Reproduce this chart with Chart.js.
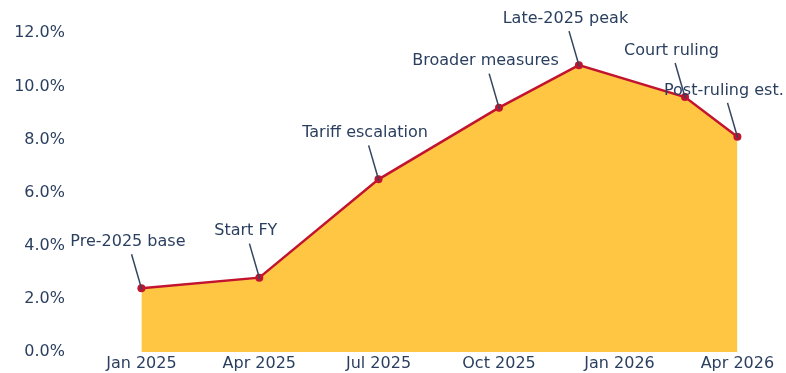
<!DOCTYPE html>
<html>
<head>
<meta charset="utf-8">
<script src="https://cdn.jsdelivr.net/npm/chart.js@4/dist/chart.umd.min.js"></script>
<style>
  html, body { margin: 0; padding: 0; background: #ffffff; }
  #wrap { width: 786px; height: 373px; }
</style>
</head>
<body>
<div id="wrap"><canvas id="chart" width="786" height="373"></canvas></div>
<script>
// Observation dates and estimated effective tariff rate (%)
const dates = ['2025-01-01', '2025-04-01', '2025-07-01', '2025-10-01', '2025-12-01', '2026-02-20', '2026-04-01'];
const rates = [2.4, 2.8, 6.5, 9.2, 10.8, 9.6, 8.1];
const notes = ['Pre-2025 base', 'Start FY', 'Tariff escalation', 'Broader measures', 'Late-2025 peak', 'Court ruling', 'Post-ruling est.'];

// Axis ticks
const xTickDates = ['2025-01-01', '2025-04-01', '2025-07-01', '2025-10-01', '2026-01-01', '2026-04-01'];
const yTicks = [0, 2, 4, 6, 8, 10, 12];

const MONTHS = ['Jan', 'Feb', 'Mar', 'Apr', 'May', 'Jun', 'Jul', 'Aug', 'Sep', 'Oct', 'Nov', 'Dec'];
const toTime = s => { const [y, m, d] = s.split('-').map(Number); return Date.UTC(y, m - 1, d); };
const fmtMonth = t => { const d = new Date(t); return MONTHS[d.getUTCMonth()] + ' ' + d.getUTCFullYear(); };

const TEXT = '#2a3f5f';
const LINE = '#c2142f';
const FILL = '#ffc644';
const FONT = '"DejaVu Sans", Verdana, sans-serif';

// Callout labels with leader lines pointing at each marker
const callouts = {
  id: 'callouts',
  afterDatasetsDraw(chart) {
    const ctx = chart.ctx;
    const pts = chart.getDatasetMeta(0).data;
    ctx.save();
    ctx.font = '16px ' + FONT;
    ctx.textAlign = 'center';
    ctx.textBaseline = 'middle';
    pts.forEach((p, i) => {
      const dx = -13.5, dy = -46.5;
      const cx = p.x + dx, cy = p.y + dy;
      const halfH = 12.5;
      const k = halfH / Math.abs(dy);
      const sx = cx - dx * k, sy = cy - dy * k;
      ctx.strokeStyle = '#34465f';
      ctx.lineWidth = 1.5;
      ctx.beginPath();
      ctx.moveTo(sx, sy);
      ctx.lineTo(p.x - dx * 0.03, p.y - dy * 0.03);
      ctx.stroke();
      ctx.fillStyle = TEXT;
      ctx.fillText(notes[i], cx, cy);
    });
    ctx.restore();
  }
};

new Chart(document.getElementById('chart'), {
  type: 'line',
  data: {
    datasets: [{
      data: dates.map((d, i) => ({ x: toTime(d), y: rates[i] })),
      borderColor: LINE,
      borderWidth: 2.5,
      backgroundColor: FILL,
      fill: 'origin',
      tension: 0,
      pointRadius: 4,
      pointHoverRadius: 4,
      pointBackgroundColor: LINE,
      pointBorderColor: LINE,
      pointBorderWidth: 0
    }]
  },
  options: {
    responsive: false,
    animation: false,
    events: [],
    layout: { padding: { top: 20, left: 0, right: 8, bottom: 0 } },
    plugins: { legend: { display: false }, tooltip: { enabled: false } },
    scales: {
      x: {
        type: 'linear',
        min: toTime('2024-11-09'),
        max: toTime('2026-05-02'),
        grid: { display: false, drawTicks: false },
        border: { display: false },
        afterBuildTicks: s => { s.ticks = xTickDates.map(d => ({ value: toTime(d) })); },
        afterFit: s => { s.height = 21; },
        ticks: {
          autoSkip: false,
          maxRotation: 0,
          padding: 2,
          color: TEXT,
          font: { family: FONT, size: 16 },
          callback: v => fmtMonth(v)
        }
      },
      y: {
        min: 0,
        max: 12.5,
        grid: { display: false, drawTicks: false },
        border: { display: false },
        afterBuildTicks: s => { s.ticks = yTicks.map(v => ({ value: v })); },
        afterFit: s => { s.width = 72; },
        ticks: {
          padding: 7,
          color: TEXT,
          font: { family: FONT, size: 16 },
          callback: v => v.toFixed(1) + '%'
        }
      }
    }
  },
  plugins: [callouts]
});
</script>
</body>
</html>
